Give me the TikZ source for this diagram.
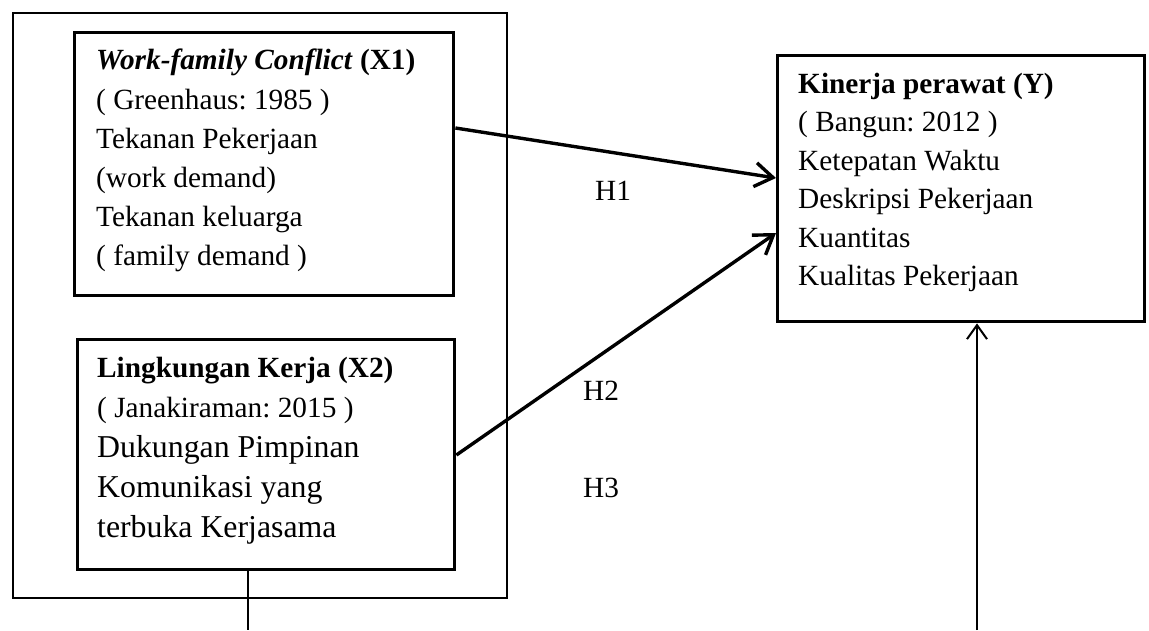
\documentclass[tikz,border=0pt]{standalone}
\usepackage{fontspec}
\setmainfont{Liberation Serif}
\frenchspacing
\usetikzlibrary{arrows.meta}
\tikzset{
  box/.style={draw, line width=3.4pt, inner sep=0pt, anchor=north west, rectangle},
  outerbox/.style={draw, line width=1.6pt, inner sep=0pt, anchor=north west, rectangle},
  txt/.style={align=left, inner sep=0pt, anchor=north west, font=\fontsize{29.3}{39.2}\selectfont},
  hlabel/.style={inner sep=0pt, anchor=base, font=\fontsize{29.3}{35}\selectfont},
  bigarrow/.style={line width=3.4pt, -{Straight Barb[length=18pt,width=24pt,line width=3.4pt]}},
  smallarrow/.style={line width=2pt, -{Straight Barb[length=14pt,width=20pt,line width=2pt]}},
  plainline/.style={line width=2pt}
}
\begin{document}
\begin{tikzpicture}[x=1pt,y=1pt]
\useasboundingbox (0,0) rectangle (1149,-630);
% outer grouping box
\node[outerbox, minimum width=494pt, minimum height=585pt] (grp) at (12,-12) {};
% X1
\node[box, minimum width=379pt, minimum height=263pt] (x1) at (73,-31) {};
\node[txt] (x1t) at (96,-49) {\textbf{\textit{Work-family Conflict}} \textbf{(X1)}\\
( Greenhaus: 1985 )\\
Tekanan Pekerjaan\\
(work demand)\\
Tekanan keluarga\\
( family demand )};
% X2
\node[box, minimum width=377pt, minimum height=230pt] (x2) at (76,-338) {};
\node[txt, font=\fontsize{29.3}{40}\selectfont] (x2t) at (97,-357) {\textbf{Lingkungan Kerja (X2)}\\
( Janakiraman: 2015 )\\
{\fontsize{31.8}{40}\selectfont Dukungan Pimpinan}\\
{\fontsize{31.8}{40}\selectfont Komunikasi yang}\\
{\fontsize{31.8}{40}\selectfont terbuka Kerjasama}};
% Y
\node[box, minimum width=367pt, minimum height=266pt] (y) at (776,-54) {};
\node[txt, font=\fontsize{29.3}{38.4}\selectfont] (yt) at (798,-73) {\textbf{Kinerja perawat (Y)}\\
( Bangun: 2012 )\\
Ketepatan Waktu\\
Deskripsi Pekerjaan\\
Kuantitas\\
Kualitas Pekerjaan};
% labels
\node[hlabel] (h1) at (613,-200) {H1};
\node[hlabel] (h2) at (601,-400) {H2};
\node[hlabel] (h3) at (601,-497) {H3};
% free ends
\coordinate (bl) at (248,-630);
\coordinate (br) at (977,-630);
% connectors
\draw[bigarrow] (x1.east |- 0,-128) -- (y.west |- 0,-178);
\draw[bigarrow] (x2.east |- 0,-455) -- (y.west |- 0,-233);
\draw[plainline] (x2.south -| bl) -- (bl);
\draw[smallarrow] (br) -- (y.south -| br);
\end{tikzpicture}
\end{document}
